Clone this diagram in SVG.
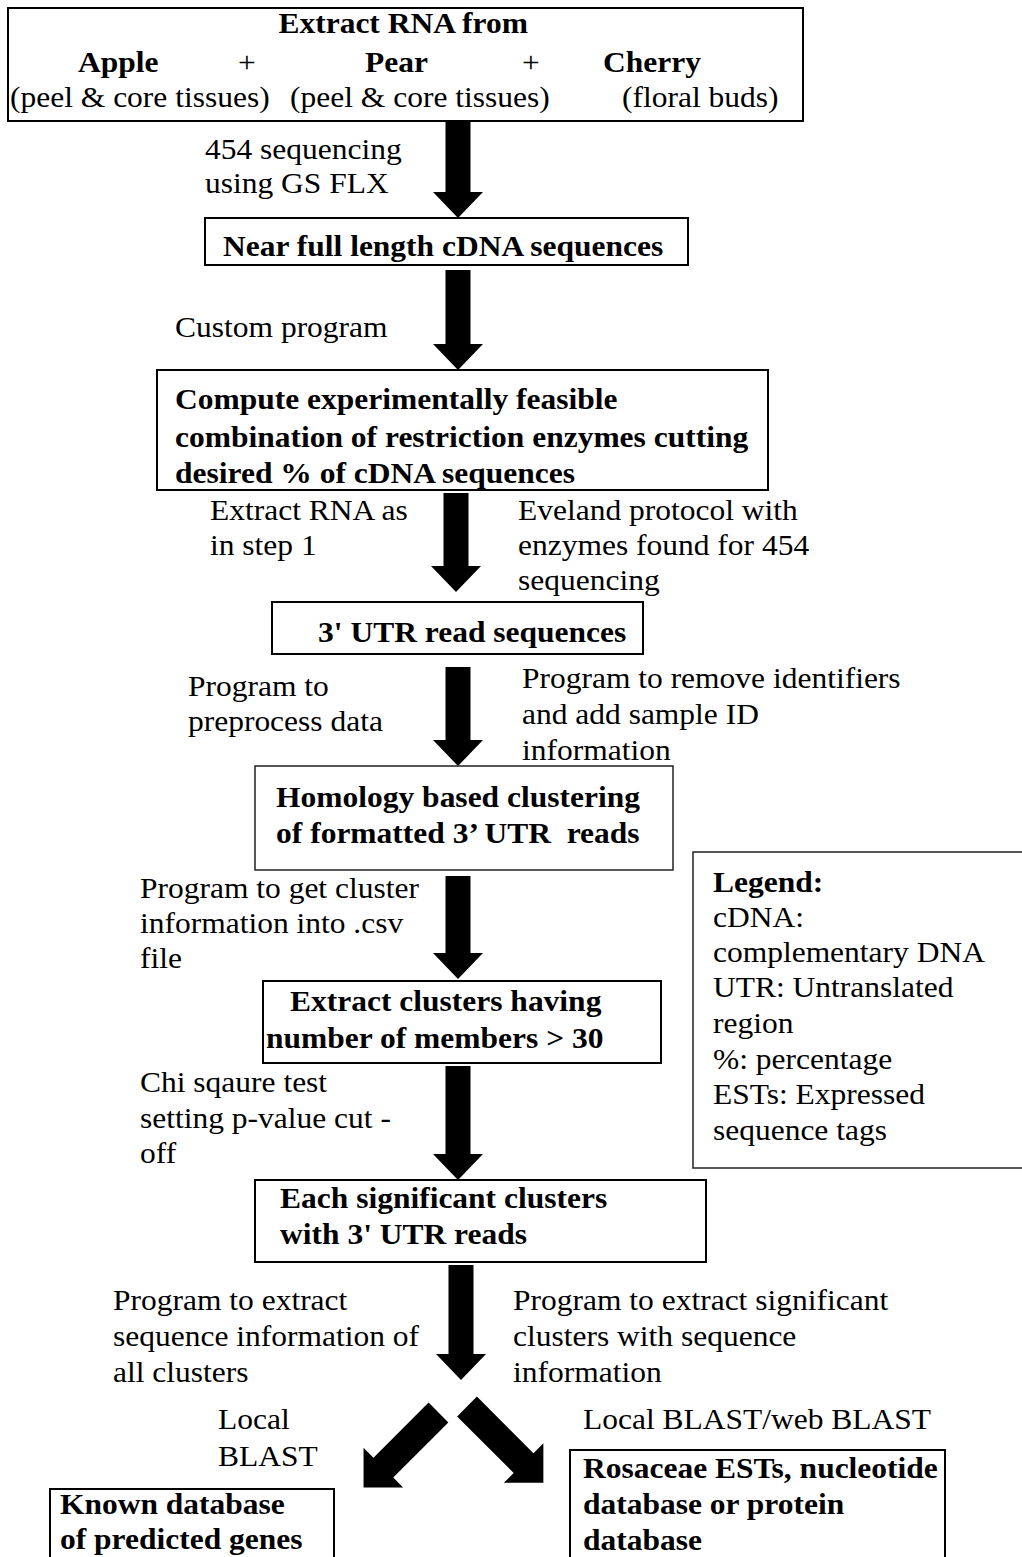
<svg xmlns="http://www.w3.org/2000/svg" width="1022" height="1557" viewBox="0 0 1022 1557">
<style>
  .box { fill: #fff; stroke: #000; stroke-width: 2; }
  .thin { fill: #fff; stroke: #222; stroke-width: 1.5; }
  .b { font-family: "Liberation Serif", "Times New Roman", serif; font-weight: bold; font-size: 30px; fill: #000; }
  .r { font-family: "Liberation Serif", "Times New Roman", serif; font-size: 30px; fill: #000; }
  .arrow { fill: #000; stroke: none; }
</style>
<defs>
  <polygon id="diag106" points="0,-14 78,-14 78,-28 106,0 78,28 78,14 0,14"/>
  <polygon id="diag108" points="0,-14 80,-14 80,-28 108,0 80,28 80,14 0,14"/>
</defs>
<rect x="0" y="0" width="1022" height="1557" fill="#fff"/>

<g id="connectors" class="arrow">
  <polygon points="445.5,121 470.5,121 470.5,192 483,192 458,218 433,192 445.5,192"/>
  <polygon points="445.5,270 470.5,270 470.5,344 483,344 458,370 433,344 445.5,344"/>
  <polygon points="443.5,493 468.5,493 468.5,566 481,566 456,592 431,566 443.5,566"/>
  <polygon points="445.5,667 470.5,667 470.5,740 483,740 458,766 433,740 445.5,740"/>
  <polygon points="445.5,876 470.5,876 470.5,953 483,953 458,979 433,953 445.5,953"/>
  <polygon points="445.5,1066 470.5,1066 470.5,1154 483,1154 458,1180 433,1154 445.5,1154"/>
  <polygon points="448.5,1265 473.5,1265 473.5,1354 486,1354 461,1380 436,1354 448.5,1354"/>
  <use href="#diag106" transform="translate(438.5,1412.5) rotate(135)"/>
  <use href="#diag108" transform="translate(467,1406.5) rotate(45)"/>
</g>

<g id="labels" transform="scale(1.05,1)">
  <text class="r" x="195.2" y="159">454 sequencing</text>
  <text class="r" x="195.2" y="193">using GS FLX</text>
  <text class="r" x="166.7" y="337">Custom program</text>
  <text class="r" x="200" y="520">Extract RNA as</text>
  <text class="r" x="200" y="555">in step 1</text>
  <text class="r" x="493.3" y="520">Eveland protocol with</text>
  <text class="r" x="493.3" y="555">enzymes found for 454</text>
  <text class="r" x="493.3" y="590">sequencing</text>
  <text class="r" x="179" y="696">Program to</text>
  <text class="r" x="179" y="731">preprocess data</text>
  <text class="r" x="497.1" y="688">Program to remove identifiers</text>
  <text class="r" x="497.1" y="724">and add sample ID</text>
  <text class="r" x="497.1" y="760">information</text>
  <text class="r" x="133.3" y="898">Program to get cluster</text>
  <text class="r" x="133.3" y="933">information into .csv</text>
  <text class="r" x="133.3" y="968">file</text>
  <text class="r" x="133.3" y="1092">Chi sqaure test</text>
  <text class="r" x="133.3" y="1128">setting p-value cut -</text>
  <text class="r" x="133.3" y="1163">off</text>
  <text class="r" x="107.6" y="1310">Program to extract</text>
  <text class="r" x="107.6" y="1346">sequence information of</text>
  <text class="r" x="107.6" y="1382">all clusters</text>
  <text class="r" x="488.6" y="1310">Program to extract significant</text>
  <text class="r" x="488.6" y="1346">clusters with sequence</text>
  <text class="r" x="488.6" y="1382">information</text>
  <text class="r" x="207.6" y="1429">Local</text>
  <text class="r" x="207.6" y="1466">BLAST</text>
  <text class="r" x="555.2" y="1429">Local BLAST/web BLAST</text>
</g>

<g id="n1">
  <rect class="box" x="8" y="8" width="795" height="113"/>
  <g transform="scale(1.05,1)">
    <text class="b" x="384" y="33" text-anchor="middle">Extract RNA from</text>
    <text class="b" x="74.3" y="72">Apple</text>
    <text class="r" x="226.7" y="72">+</text>
    <text class="b" x="347.6" y="72">Pear</text>
    <text class="r" x="497.1" y="72">+</text>
    <text class="b" x="574.3" y="72">Cherry</text>
    <text class="r" x="9.5" y="107">(peel &amp; core tissues)</text>
    <text class="r" x="276.2" y="107">(peel &amp; core tissues)</text>
    <text class="r" x="592.4" y="107">(floral buds)</text>
  </g>
</g>

<g id="n2">
  <rect class="box" x="205" y="218" width="483" height="47"/>
  <g transform="scale(1.05,1)">
    <text class="b" x="212.4" y="256">Near full length cDNA sequences</text>
  </g>
</g>

<g id="n3">
  <rect class="box" x="157" y="370" width="611" height="120"/>
  <g transform="scale(1.05,1)">
    <text class="b" x="166.7" y="409">Compute experimentally feasible</text>
    <text class="b" x="166.7" y="447">combination of restriction enzymes cutting</text>
    <text class="b" x="166.7" y="483">desired % of cDNA sequences</text>
  </g>
</g>

<g id="n4">
  <rect class="box" x="272" y="602" width="371" height="52"/>
  <g transform="scale(1.05,1)">
    <text class="b" x="302.9" y="642">3' UTR read sequences</text>
  </g>
</g>

<g id="n5">
  <rect class="thin" x="255" y="766" width="418" height="104"/>
  <g transform="scale(1.05,1)">
    <text class="b" x="262.9" y="807">Homology based clustering</text>
    <text class="b" x="262.9" y="843">of formatted 3’ UTR&#160; reads</text>
  </g>
</g>

<g id="legend">
  <rect class="thin" x="693" y="852" width="340" height="316"/>
  <g transform="scale(1.05,1)">
    <text class="b" x="679" y="892">Legend:</text>
    <text class="r" x="679" y="927">cDNA:</text>
    <text class="r" x="679" y="962">complementary DNA</text>
    <text class="r" x="679" y="997">UTR: Untranslated</text>
    <text class="r" x="679" y="1033">region</text>
    <text class="r" x="679" y="1069">%: percentage</text>
    <text class="r" x="679" y="1104">ESTs: Expressed</text>
    <text class="r" x="679" y="1140">sequence tags</text>
  </g>
</g>

<g id="n6">
  <rect class="box" x="263" y="981" width="398" height="82"/>
  <g transform="scale(1.05,1)">
    <text class="b" x="276.2" y="1011">Extract clusters having</text>
    <text class="b" x="253.3" y="1048">number of members &gt; 30</text>
  </g>
</g>

<g id="n7">
  <rect class="box" x="255" y="1180" width="451" height="82"/>
  <g transform="scale(1.05,1)">
    <text class="b" x="266.7" y="1208">Each significant clusters</text>
    <text class="b" x="266.7" y="1244">with 3' UTR reads</text>
  </g>
</g>

<g id="n8">
  <rect class="box" x="50" y="1489" width="284" height="80"/>
  <g transform="scale(1.05,1)">
    <text class="b" x="57.1" y="1514">Known database</text>
    <text class="b" x="57.1" y="1549">of predicted genes</text>
  </g>
</g>

<g id="n9">
  <rect class="box" x="570" y="1450" width="375" height="120"/>
  <g transform="scale(1.05,1)">
    <text class="b" x="555.2" y="1478">Rosaceae ESTs, nucleotide</text>
    <text class="b" x="555.2" y="1514">database or protein</text>
    <text class="b" x="555.2" y="1550">database</text>
  </g>
</g>
</svg>
